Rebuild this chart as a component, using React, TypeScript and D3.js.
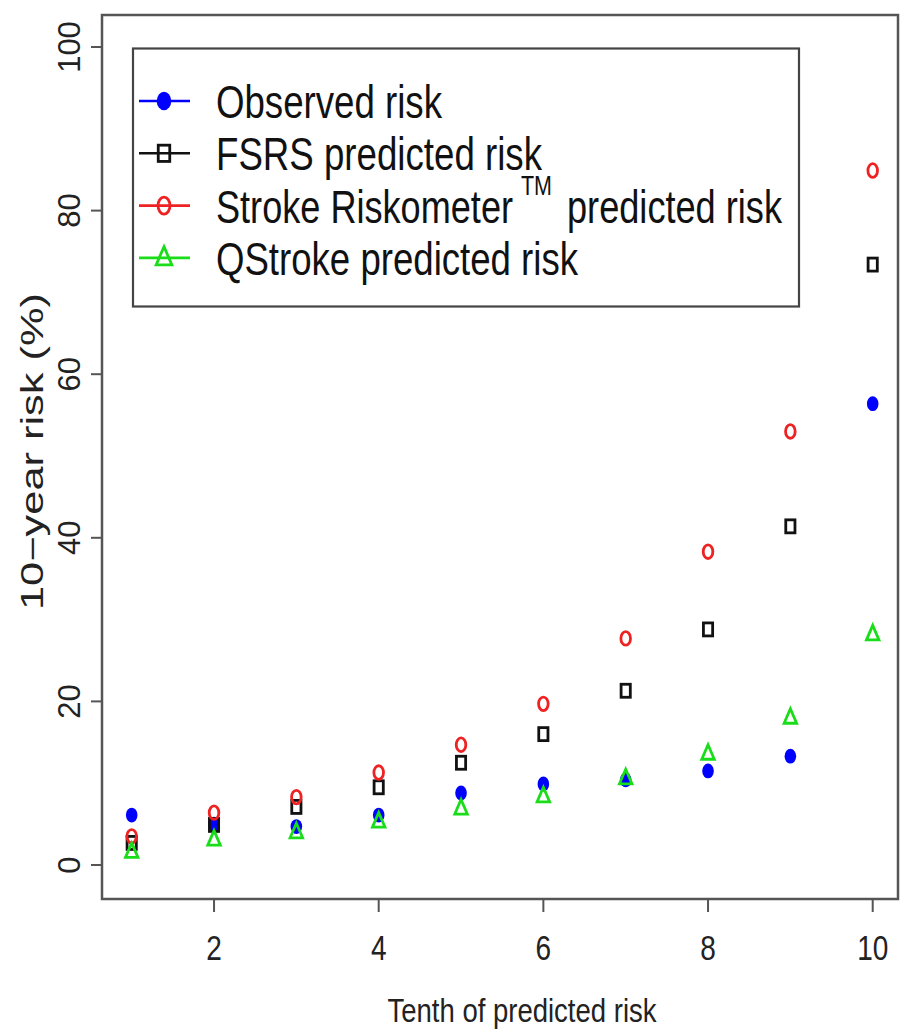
import React from "react";
import * as d3 from "d3";

const deciles = [1, 2, 3, 4, 5, 6, 7, 8, 9, 10];
const observed = [6.1, 5.0, 4.7, 6.1, 8.8, 9.9, 10.4, 11.5, 13.3, 56.4];
const fsrs = [2.7, 4.9, 7.1, 9.5, 12.5, 16.0, 21.3, 28.8, 41.4, 73.4];
const riskometer = [3.5, 6.4, 8.3, 11.3, 14.7, 19.7, 27.7, 38.3, 53.0, 84.9];
const qstroke = [1.6, 3.1, 4.0, 5.3, 6.9, 8.4, 10.6, 13.6, 18.0, 28.2];
const xTicks = [2, 4, 6, 8, 10];
const yTicks = [0, 20, 40, 60, 80, 100];

const BLUE = "#0000ff";
const RED = "#ee2222";
const BLACK = "#111111";
const GREEN = "#19dd19";
const FONT = "'Liberation Sans', Arial, Helvetica, sans-serif";

type Shape = "dot" | "square" | "circle" | "triangle";

function Marker({ shape, cx, cy, color, big }: { shape: Shape; cx: number; cy: number; color: string; big?: boolean }) {
  const k = big ? 1.25 : 1;
  if (shape === "dot") {
    return <ellipse cx={cx} cy={cy} rx={5.8 * k} ry={7.4 * k} fill={color} />;
  }
  if (shape === "circle") {
    return <ellipse cx={cx} cy={cy} rx={4.8 * k} ry={6.8 * k} fill="none" stroke={color} strokeWidth={2.8} />;
  }
  if (shape === "square") {
    const w = 9.2 * k;
    const h = 13 * k;
    return <rect x={cx - w / 2} y={cy - h / 2} width={w} height={h} fill="none" stroke={color} strokeWidth={2.8} />;
  }
  const w = 12.5 * k;
  const h = 14.5 * k;
  const p = `M${cx},${cy - h * 0.62} L${cx + w / 2},${cy + h * 0.38} L${cx - w / 2},${cy + h * 0.38} Z`;
  return <path d={p} fill="none" stroke={color} strokeWidth={2.8} strokeLinejoin="miter" />;
}

const series: { name: string; values: number[]; shape: Shape; color: string }[] = [
  { name: "Observed risk", values: observed, shape: "dot", color: BLUE },
  { name: "FSRS predicted risk", values: fsrs, shape: "square", color: BLACK },
  { name: "Stroke Riskometer", values: riskometer, shape: "circle", color: RED },
  { name: "QStroke predicted risk", values: qstroke, shape: "triangle", color: GREEN },
];

export default function App() {
  const x = d3.scaleLinear().domain([1, 10]).range([131.7, 872.7]);
  const y = d3.scaleLinear().domain([0, 100]).range([865, 47]);
  const box = { left: 102, top: 15, right: 898, bottom: 899 };
  const leg = { left: 133, top: 48.5, right: 799, bottom: 306.5 };
  const rowY = (i: number) => 101 + i * 52.3;
  const textX = 216;
  const legendLens = [226, 326, 297, 362];

  return (
    <div style={{ position: "absolute", left: 0, top: 0 }}>
      <svg width={900} height={1032} viewBox="0 0 900 1032" style={{ display: "block", background: "#fff" }} fontFamily={FONT}>
        <rect x={0} y={0} width={900} height={1032} fill="#fff" />
        {/* points */}
        {series.map((s) => (
          <g key={s.name}>
            {s.values.map((v, i) => (
              <Marker key={i} shape={s.shape} cx={x(deciles[i])} cy={y(v)} color={s.color} />
            ))}
          </g>
        ))}
        {/* plot box */}
        <rect x={box.left} y={box.top} width={box.right - box.left} height={box.bottom - box.top} fill="none" stroke="#555" strokeWidth={2.5} />
        {/* x axis ticks */}
        {xTicks.map((t) => (
          <g key={t}>
            <line x1={x(t)} x2={x(t)} y1={box.bottom} y2={box.bottom + 13} stroke="#555" strokeWidth={2} />
            <text transform={`translate(${x(t)},960) scale(0.8,1)`} textAnchor="middle" fontSize={35} fill="#222">
              {t}
            </text>
          </g>
        ))}
        {/* y axis ticks */}
        {yTicks.map((t) => (
          <g key={t}>
            <line x1={box.left - 11} x2={box.left} y1={y(t)} y2={y(t)} stroke="#555" strokeWidth={2} />
            <text transform={`translate(80,${y(t)}) rotate(-90)`} textAnchor="middle" fontSize={31} fill="#222">
              {t}
            </text>
          </g>
        ))}
        {/* axis titles */}
        <text x={522} y={1022} textAnchor="middle" fontSize={34} fill="#222" textLength={269} lengthAdjust="spacingAndGlyphs">
          Tenth of predicted risk
        </text>
        <text transform="translate(43,452) rotate(-90)" x={-158} y={0} fontSize={31} fill="#222" textLength={317} lengthAdjust="spacingAndGlyphs">
          10−year risk (%)
        </text>
        {/* legend */}
        <rect x={leg.left} y={leg.top} width={leg.right - leg.left} height={leg.bottom - leg.top} fill="#fff" stroke="#444" strokeWidth={2.2} />
        {series.map((s, i) => (
          <g key={s.name}>
            <line x1={139} x2={190} y1={rowY(i)} y2={rowY(i)} stroke={s.color} strokeWidth={2.6} />
            <Marker shape={s.shape} cx={164} cy={rowY(i)} color={s.color} big />
            <text x={textX} y={rowY(i) + 17} fontSize={46} fill="#111" textLength={legendLens[i]} lengthAdjust="spacingAndGlyphs">
              {s.name}
            </text>
          </g>
        ))}
        <text x={521} y={rowY(2) - 11} fontSize={27} fill="#111" textLength={31} lengthAdjust="spacingAndGlyphs">
          TM
        </text>
        <text x={567} y={rowY(2) + 17} fontSize={46} fill="#111" textLength={215} lengthAdjust="spacingAndGlyphs">
          predicted risk
        </text>
      </svg>
    </div>
  );
}
